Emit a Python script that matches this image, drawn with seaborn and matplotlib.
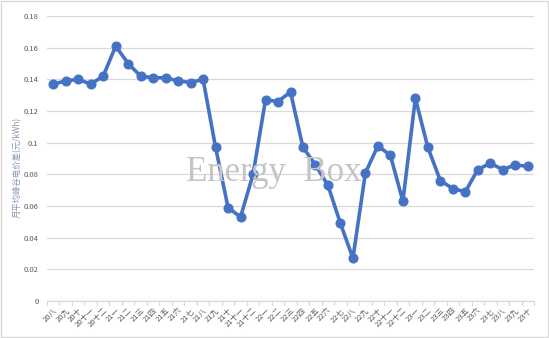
import matplotlib
matplotlib.use("Agg")
import matplotlib.pyplot as plt
import seaborn as sns
import pandas as pd
from matplotlib.patches import Rectangle

months_cn = ["八", "九", "十", "十一", "十二"] + \
    ["一", "二", "三", "四", "五", "六", "七", "八", "九", "十", "十一", "十二"] * 2 + \
    ["一", "二", "三", "四", "五", "六", "七", "八", "九", "十"]
years = ["20"] * 5 + ["21"] * 12 + ["22"] * 12 + ["23"] * 10
labels = [y + m for y, m in zip(years, months_cn)]

values = [0.137, 0.139, 0.140, 0.137, 0.142, 0.161, 0.150, 0.142, 0.141, 0.141,
          0.139, 0.138, 0.140, 0.097, 0.059, 0.053, 0.080, 0.127, 0.126, 0.132,
          0.097, 0.086, 0.073, 0.049, 0.027, 0.081, 0.098, 0.092, 0.063, 0.128,
          0.097, 0.076, 0.071, 0.069, 0.083, 0.087, 0.083, 0.086, 0.085]

yticks = [0, 0.02, 0.04, 0.06, 0.08, 0.1, 0.12, 0.14, 0.16, 0.18]
ytick_labels = ["0", "0.02", "0.04", "0.06", "0.08", "0.1", "0.12", "0.14", "0.16", "0.18"]

sns.set_theme(style="white")
plt.rcParams['font.family'] = ['Noto Sans CJK SC', 'DejaVu Sans']

df = pd.DataFrame({"idx": range(len(values)), "value": values})

fig = plt.figure(figsize=(5.49, 3.38), dpi=100)
ax = fig.add_axes([47 / 549, 37 / 338, 487 / 549, 285 / 338])

line_color = "#4472C4"
sns.lineplot(data=df, x="idx", y="value", ax=ax, color=line_color, linewidth=2.6,
             marker="o", markersize=6.5, markeredgecolor=line_color, markerfacecolor=line_color)

ax.set_xlim(-0.5, len(values) - 0.5)
ax.set_ylim(0, 0.18)
ax.set_yticks(yticks)
ax.set_yticklabels(ytick_labels, fontsize=5.5, color="#595959")
ax.yaxis.grid(True, color="#d9d9d9", linewidth=0.9)
ax.set_axisbelow(True)

ax.set_xticks(range(len(labels)))
ax.set_xticklabels(labels, rotation=45, ha="right", rotation_mode="anchor",
                   fontsize=5.5, color="#595959")
ax.tick_params(axis="x", length=0, pad=4)
ax.tick_params(axis="y", length=0, pad=6)
# category boundary tick marks
for b in [i - 0.5 for i in range(len(values) + 1)]:
    ax.plot([b, b], [0, -0.0025], color="#d9d9d9", linewidth=0.9, clip_on=False)

for s in ["top", "right", "left"]:
    ax.spines[s].set_visible(False)
ax.spines["bottom"].set_color("#d9d9d9")
ax.spines["bottom"].set_linewidth(0.9)

ax.set_xlabel("")
ax.set_ylabel("月平均峰谷电价差(元/kWh)", fontsize=6, color="#8497b0")
ax.yaxis.set_label_coords(-(47 - 22) / 487, 0.47)

fig.text(274 / 549, 1 - 172 / 338, "Energy  Box", fontsize=25,
         family="Liberation Serif", color="#c4c4c4", ha="center", va="center")

fig.patches.append(Rectangle((0.002, 0.003), 0.996, 0.994, transform=fig.transFigure,
                             fill=False, edgecolor="#d9d9d9", linewidth=1))

fig.savefig("out.png", dpi=100)
